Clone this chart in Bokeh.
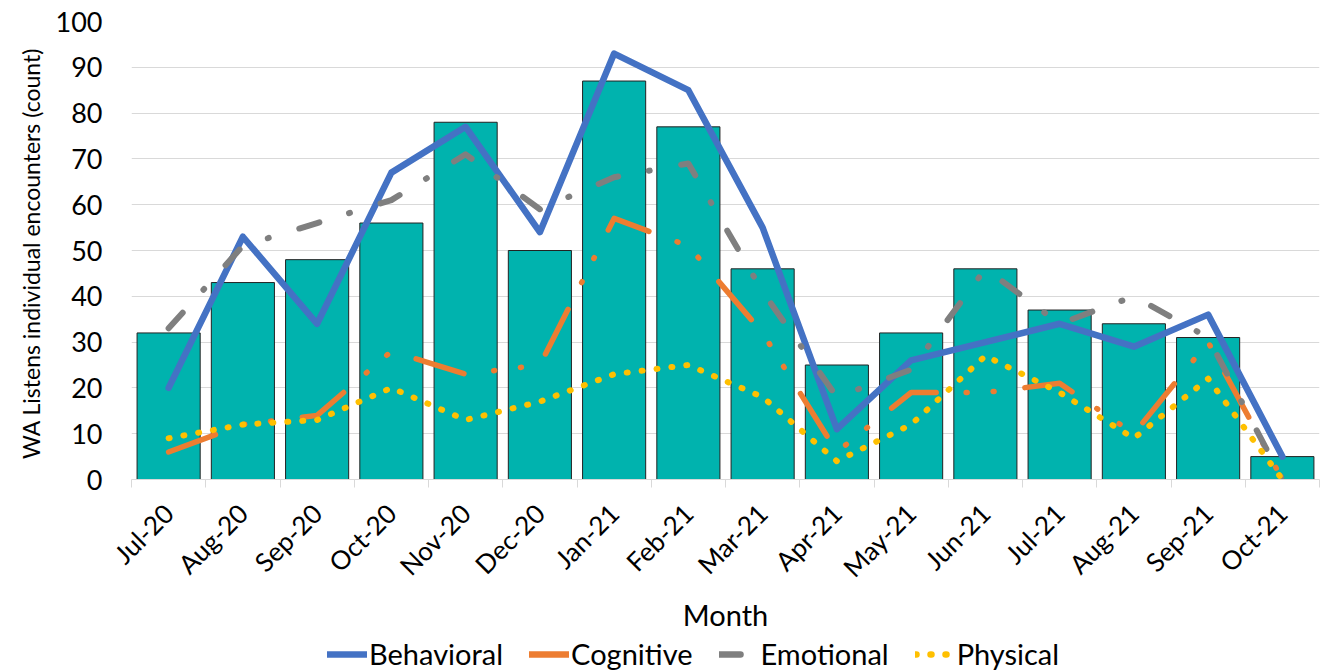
import math
from bokeh.plotting import figure
from bokeh.layouts import column
from bokeh.models import (Range1d, FixedTicker, Legend, LegendItem)
from bokeh.embed import file_html
from bokeh.resources import INLINE

months = ["Jul-20", "Aug-20", "Sep-20", "Oct-20", "Nov-20", "Dec-20", "Jan-21", "Feb-21",
          "Mar-21", "Apr-21", "May-21", "Jun-21", "Jul-21", "Aug-21", "Sep-21", "Oct-21"]
total = [32, 43, 48, 56, 78, 50, 87, 77, 46, 25, 32, 46, 37, 34, 31, 5]
behavioral = [20, 53, 34, 67, 77, 54, 93, 85, 55, 11, 26, 30, 34, 29, 36, 5]
cognitive = [6, 12, 14, 28, 23, 25, 57, 51, 32, 6, 19, 19, 21, 10, 30, 0]
emotional = [33, 51, 56, 61, 71, 59, 66, 69, 41, 18, 24, 46, 34, 40, 31, 0]
physical = [9, 12, 13, 20, 13, 17, 23, 25, 18, 4, 12, 27, 19, 9, 22, 0]
y_ticks = list(range(0, 101, 10))
series_names = ["Behavioral", "Cognitive", "Emotional", "Physical"]

FONT = "Lato"
xs = list(range(len(months)))
series = [behavioral, cognitive, emotional, physical]

styles = [
    dict(line_color="#4472C4", line_width=6.5),
    dict(line_color="#ED7D31", line_width=5.5, line_dash="50 30 1 26 1 31"),
    dict(line_color="#7F7F7F", line_width=6, line_dash="21 31 1 32"),
    dict(line_color="#FFC000", line_width=6, line_dash="1 14"),
]

p = figure(width=1321, height=635, output_backend="svg", toolbar_location=None,
           x_range=Range1d(-0.5, len(months) - 0.5), y_range=Range1d(0, 100),
           min_border_left=131, min_border_right=2, min_border_top=21, min_border_bottom=156)
p.outline_line_color = None
p.background_fill_color = "white"
p.border_fill_color = "white"

p.vbar(x=xs, top=total, width=0.85, fill_color="#00B3AE", line_color="#222222", line_width=1)

for vals, st in zip(series, styles):
    p.line(xs, vals, line_join="round", line_cap="round", **st)

xaxis = p.xaxis[0]
xaxis.ticker = FixedTicker(ticks=xs, minor_ticks=[i - 0.5 for i in range(len(months) + 1)])
xaxis.major_label_overrides = {i: m for i, m in zip(xs, months)}
xaxis.major_label_orientation = math.pi / 4
xaxis.major_tick_line_color = None
xaxis.major_tick_out = 0
xaxis.major_tick_in = 0
xaxis.minor_tick_line_color = "#D9D9D9"
xaxis.minor_tick_out = 8
xaxis.minor_tick_in = 0
xaxis.axis_line_color = "#D9D9D9"
xaxis.major_label_text_font = FONT
xaxis.major_label_text_font_size = "26px"
xaxis.major_label_text_color = "#000000"
xaxis.major_label_standoff = 21
xaxis.axis_label = "Month"
xaxis.axis_label_text_font = FONT
xaxis.axis_label_text_font_size = "29px"
xaxis.axis_label_text_font_style = "normal"
xaxis.axis_label_text_color = "#000000"
xaxis.axis_label_standoff = 0

yaxis = p.yaxis[0]
yaxis.ticker = FixedTicker(ticks=y_ticks)
yaxis.axis_line_color = None
yaxis.major_tick_line_color = None
yaxis.major_tick_out = 0
yaxis.minor_tick_line_color = None
yaxis.major_label_text_font = FONT
yaxis.major_label_text_font_size = "27px"
yaxis.major_label_text_color = "#000000"
yaxis.major_label_standoff = 29
yaxis.axis_label = "WA Listens individual encounters  (count)"
yaxis.axis_label_text_font = FONT
yaxis.axis_label_text_font_size = "23px"
yaxis.axis_label_text_font_style = "normal"
yaxis.axis_label_text_color = "#000000"
yaxis.axis_label_standoff = 8

p.xgrid.grid_line_color = None
p.ygrid.ticker = FixedTicker(ticks=y_ticks)
p.ygrid.grid_line_color = "#D9D9D9"
p.ygrid.grid_line_width = 1.2

# legend strip below the chart: same series, drawn outside its visible range so only keys show
p2 = figure(width=1321, height=36, output_backend="svg", toolbar_location=None,
            x_range=Range1d(-0.5, len(months) - 0.5), y_range=Range1d(-1000, -999),
            x_axis_location=None, y_axis_location=None, min_border=0)
p2.outline_line_color = None
p2.grid.grid_line_color = None
p2.background_fill_color = "white"
p2.border_fill_color = "white"
keys = []
for name, vals, st in zip(series_names, series, styles):
    st2 = dict(st)
    st2["line_width"] = 6.5
    r = p2.line(xs, vals, line_cap="round", **st2)
    keys.append(LegendItem(label=name, renderers=[r]))

legend = Legend(items=keys, location=(196, 0), orientation="horizontal",
                glyph_width=40, glyph_height=26, label_height=26, label_standoff=2, spacing=26,
                padding=0, margin=0, border_line_color=None, background_fill_alpha=0,
                label_text_font=FONT, label_text_font_size="29px", label_text_color="#000000")
p2.add_layout(legend)

open("out.html", "w").write(file_html(column(p, p2, spacing=0), INLINE))
